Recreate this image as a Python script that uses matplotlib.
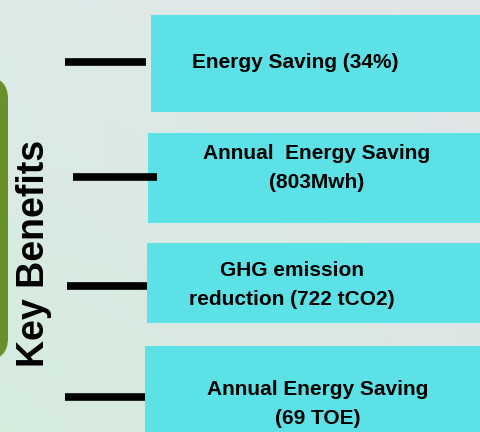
import matplotlib
matplotlib.use("Agg")
import matplotlib.pyplot as plt
from matplotlib.patches import Rectangle, FancyBboxPatch
import numpy as np

# ---- content ----
title = "Key Benefits"
benefits = [
    "Energy Saving (34%)",
    "Annual  Energy Saving\n(803Mwh)",
    "GHG emission\nreduction (722 tCO2)",
    "Annual Energy Saving\n(69 TOE)",
]

# ---- layout (pixel coordinates, y downward) ----
box_left = [151, 148, 147, 145]
box_top = [15, 133, 243, 346]
box_bottom = [112, 223, 323, 440]
text_x = [295, 317, 292, 318]
text_y = [62, 168, 285, 404]
line_y = [62, 177, 286, 397]
line_x0 = [65, 73, 67, 65]
line_x1 = [146, 157, 147, 145]

W, H = 481, 432
fig = plt.figure(figsize=(W / 100, H / 100), dpi=100)
ax = fig.add_axes([0, 0, 1, 1])
ax.set_xlim(0, W)
ax.set_ylim(H, 0)
ax.axis("off")

# background gradient
yy, xx = np.mgrid[0:1:100j, 0:1:100j]
c_tl = np.array([0xDD, 0xEB, 0xE8]) / 255
c_bl = np.array([0xD5, 0xEC, 0xDD]) / 255
c_tr = np.array([0xE2, 0xE5, 0xE8]) / 255
c_br = np.array([0xDC, 0xE6, 0xE4]) / 255
img = ((1 - xx)[..., None] * ((1 - yy)[..., None] * c_tl + yy[..., None] * c_bl)
       + xx[..., None] * ((1 - yy)[..., None] * c_tr + yy[..., None] * c_br))
ax.imshow(img, extent=[0, W, H, 0], aspect="auto", zorder=0)

# green rounded panel
ax.add_patch(FancyBboxPatch((-60, 77), 68, 283, boxstyle="round,pad=0,rounding_size=22",
                            facecolor="#6A902C", edgecolor="none", zorder=1))

# title
ax.text(34, 253, title, rotation=90, ha="center", va="center", fontsize=27,
        fontweight="bold", family="Liberation Sans", color="black", zorder=3)

for i, label in enumerate(benefits):
    ax.add_patch(Rectangle((box_left[i], box_top[i]), W + 10 - box_left[i],
                           box_bottom[i] - box_top[i], facecolor="#5CE1E6",
                           edgecolor="none", zorder=2))
    ax.plot([line_x0[i], line_x1[i]], [line_y[i], line_y[i]], color="black",
            linewidth=5.5, solid_capstyle="butt", zorder=3)
    ax.text(text_x[i], text_y[i], label, ha="center", va="center", fontsize=15,
            fontweight="bold", family="Liberation Sans", color="black",
            linespacing=1.7, zorder=3)

fig.savefig("out.png", dpi=100)
